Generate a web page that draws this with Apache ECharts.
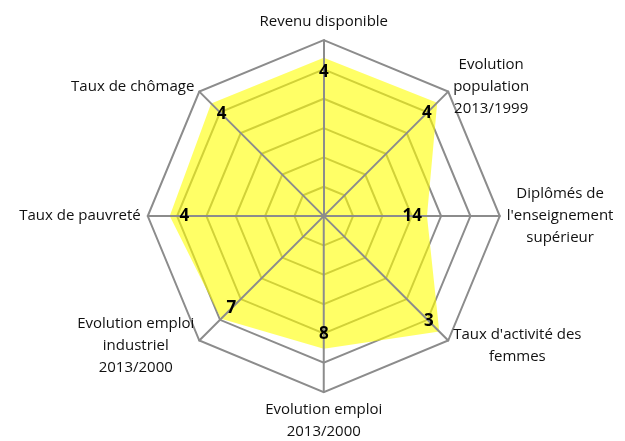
<!DOCTYPE html>
<html>
<head>
<meta charset="utf-8">
<script src="https://cdn.jsdelivr.net/npm/echarts@6/dist/echarts.min.js"></script>
<style>
  html, body { margin: 0; padding: 0; background: #fff; }
  #chart { width: 625px; height: 441px; }
</style>
</head>
<body>
<div id="chart"></div>
<script>
// axes listed clockwise from the top, as in the picture
var axisNames = [
  "Revenu disponible",
  "Evolution\npopulation\n2013/1999",
  "Diplômés de\nl'enseignement\nsupérieur",
  "Taux d'activité des\nfemmes",
  "Evolution emploi\n2013/2000",
  "Evolution emploi\nindustriel\n2013/2000",
  "Taux de pauvreté",
  "Taux de chômage"
];
var scores = [5.4, 5.47, 3.52, 5.57, 4.52, 4.95, 5.25, 5.43];
var ranks = [4, 4, 14, 3, 8, 7, 4, 4];
var axisMax = 6;

// echarts lays indicators out counter-clockwise: keep first, reverse the rest
function ccw(arr) {
  return [arr[0]].concat(arr.slice(1).reverse());
}

var indicators = ccw(axisNames).map(function (n) {
  return { name: n, min: 0, max: axisMax };
});

// labels sit a bit inside the vertex
var labelPos = ccw(scores).map(function (v) { return +(v - 0.5).toFixed(3); });
var rankOf = {};
labelPos.forEach(function (v, i) { rankOf[v] = ccw(ranks)[i]; });

var font = "'Open Sans', 'Liberation Sans', sans-serif";
var gray = "#8c8c8c";

var chart = echarts.init(document.getElementById("chart"));
chart.setOption({
  animation: false,
  radar: [
    {
      indicator: indicators,
      center: ["51.8%", "49%"],
      radius: 176,
      startAngle: 90,
      shape: "polygon",
      splitNumber: 6,
      axisName: {
        color: "#111",
        fontFamily: font,
        fontSize: 15,
        formatter: function (name) {
          return name.split("\n").map(function (s) { return "{c|" + s + "}"; }).join("\n");
        },
        rich: {
          c: { align: "center", fontFamily: font, fontSize: 15, lineHeight: 22, color: "#111" }
        }
      },
      nameGap: 7,
      axisLine: { show: false },
      axisTick: { show: false },
      axisLabel: { show: false },
      splitArea: { show: false },
      splitLine: { lineStyle: { color: gray, width: 2 } }
    },
    {
      indicator: indicators,
      center: ["51.8%", "49%"],
      radius: 176,
      startAngle: 90,
      shape: "polygon",
      splitNumber: 6,
      z: 5,
      axisName: { show: false },
      axisLine: { show: true, lineStyle: { color: gray, width: 2 } },
      axisTick: { show: false },
      axisLabel: { show: false },
      splitArea: { show: false },
      splitLine: { show: false }
    }
  ],
  series: [
    {
      type: "radar",
      radarIndex: 0,
      symbol: "none",
      lineStyle: { width: 0 },
      areaStyle: { color: "#ffff00", opacity: 0.6 },
      data: [{ value: ccw(scores) }]
    },
    {
      type: "radar",
      radarIndex: 0,
      z: 6,
      symbol: "circle",
      symbolSize: 0.1,
      itemStyle: { color: "rgba(0,0,0,0)" },
      lineStyle: { width: 0, opacity: 0 },
      label: {
        show: true,
        position: "inside",
        color: "#000",
        fontWeight: "bold",
        fontSize: 17,
        fontFamily: font,
        formatter: function (p) { return String(rankOf[p.value]); }
      },
      data: [{ value: labelPos }]
    }
  ]
});
</script>
</body>
</html>
